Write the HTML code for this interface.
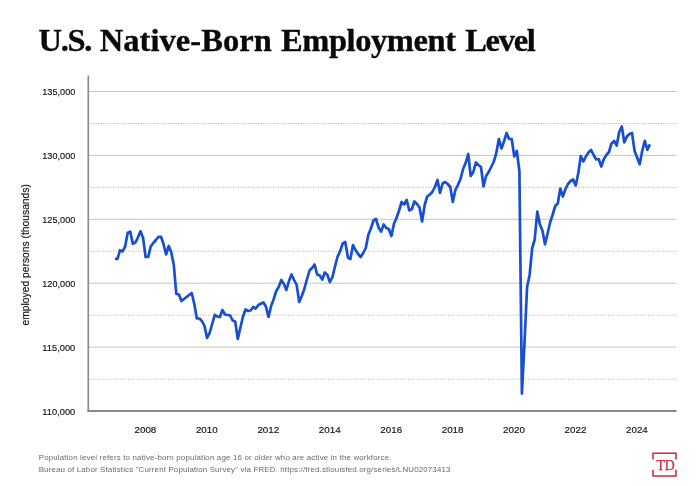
<!DOCTYPE html>
<html><head><meta charset="utf-8"><title>U.S. Native-Born Employment Level</title>
<style>
html,body{margin:0;padding:0;background:#fff}
body{width:700px;height:486px;overflow:hidden;position:relative;font-family:"Liberation Sans",sans-serif}
h1{position:absolute;left:0;top:21.3px;width:700px;height:38px;margin:0;font-family:"Liberation Serif",serif;font-weight:700;font-size:32.5px;line-height:38px;color:#0a0a0a;white-space:nowrap;letter-spacing:-0.42px;transform-origin:0 0}
svg{position:absolute;left:0;top:0}
.g{stroke:#bdbdbd;stroke-width:0.9}
.d{stroke:#a0a0a0;stroke-width:0.8;stroke-dasharray:1.1 1.4}
.t{font-family:"Liberation Sans",sans-serif;font-size:9.8px;fill:#111;stroke:#111;stroke-width:0.15px}
.f{position:absolute;left:38.7px;margin:0;font-size:7.9px;letter-spacing:0.19px;line-height:13px;color:#6a6a6a;white-space:nowrap}
h1 span{position:absolute;top:0;-webkit-text-stroke:0.35px #0a0a0a}
</style></head><body>
<h1><span style="left:38.5px;letter-spacing:-1.33px">U.S.</span> <span style="left:99.75px;letter-spacing:0.05px">Native-Born</span> <span style="left:281px;letter-spacing:-0.42px">Employment</span> <span style="left:465.25px;letter-spacing:-1.31px">Level</span></h1>
<svg width="700" height="486" viewBox="0 0 700 486">
<line x1="88" x2="676.5" y1="91.5" y2="91.5" class="g"/>
<line x1="88" x2="676.5" y1="123.5" y2="123.5" class="d"/>
<line x1="88" x2="676.5" y1="155.4" y2="155.4" class="g"/>
<line x1="88" x2="676.5" y1="187.3" y2="187.3" class="d"/>
<line x1="88" x2="676.5" y1="219.3" y2="219.3" class="g"/>
<line x1="88" x2="676.5" y1="251.2" y2="251.2" class="d"/>
<line x1="88" x2="676.5" y1="283.2" y2="283.2" class="g"/>
<line x1="88" x2="676.5" y1="315.1" y2="315.1" class="d"/>
<line x1="88" x2="676.5" y1="347.1" y2="347.1" class="g"/>
<line x1="88" x2="676.5" y1="379.1" y2="379.1" class="d"/>

<line x1="88.3" x2="88.3" y1="75.5" y2="412" stroke="#8c8c8c" stroke-width="1.7"/>
<line x1="87.5" x2="676.5" y1="411" y2="411" stroke="#8a8a8a" stroke-width="2"/>
<text x="75.3" y="95.0" text-anchor="end" class="t" textLength="33" lengthAdjust="spacingAndGlyphs">135,000</text>
<text x="75.3" y="158.9" text-anchor="end" class="t" textLength="33" lengthAdjust="spacingAndGlyphs">130,000</text>
<text x="75.3" y="222.8" text-anchor="end" class="t" textLength="33" lengthAdjust="spacingAndGlyphs">125,000</text>
<text x="75.3" y="286.7" text-anchor="end" class="t" textLength="33" lengthAdjust="spacingAndGlyphs">120,000</text>
<text x="75.3" y="350.6" text-anchor="end" class="t" textLength="33" lengthAdjust="spacingAndGlyphs">115,000</text>
<text x="75.3" y="414.5" text-anchor="end" class="t" textLength="33" lengthAdjust="spacingAndGlyphs">110,000</text>
<text x="145.4" y="433" text-anchor="middle" class="t">2008</text>
<text x="206.8" y="433" text-anchor="middle" class="t">2010</text>
<text x="268.3" y="433" text-anchor="middle" class="t">2012</text>
<text x="329.7" y="433" text-anchor="middle" class="t">2014</text>
<text x="391.2" y="433" text-anchor="middle" class="t">2016</text>
<text x="452.6" y="433" text-anchor="middle" class="t">2018</text>
<text x="514.0" y="433" text-anchor="middle" class="t">2020</text>
<text x="575.5" y="433" text-anchor="middle" class="t">2022</text>
<text x="636.9" y="433" text-anchor="middle" class="t">2024</text>

<text transform="translate(29.2,254.8) rotate(-90)" text-anchor="middle" class="t" style="font-size:10.3px">employed persons (thousands)</text>
<polyline fill="none" stroke="#184fd0" stroke-width="2.7" stroke-linejoin="round" stroke-linecap="butt" points="114.9,258.8 117.5,258.8 120.0,250.2 122.6,251.4 125.1,246.7 127.7,232.8 130.3,231.7 132.8,243.8 135.4,242.6 137.9,237.5 140.5,231.3 143.1,238.0 145.6,257.0 148.2,257.0 150.7,246.5 153.3,243.0 155.9,240.0 158.4,236.8 161.0,236.8 163.5,244.0 166.1,254.5 168.7,246.0 171.2,252.0 173.8,265.0 176.3,294.0 178.9,294.5 181.5,301.0 184.0,299.0 186.6,297.0 189.1,295.0 191.7,293.0 194.3,304.0 196.8,318.5 199.4,318.5 201.9,321.0 204.5,326.0 207.1,338.0 209.6,333.0 212.2,324.0 214.7,315.0 217.3,316.5 219.9,317.0 222.4,310.0 225.0,314.5 227.5,315.0 230.1,315.5 232.7,320.5 235.2,321.5 237.8,339.0 240.3,328.0 242.9,317.0 245.5,309.5 248.0,311.0 250.6,310.5 253.1,307.0 255.7,308.5 258.3,305.0 260.8,303.8 263.4,302.5 265.9,306.5 268.5,317.0 271.1,306.0 273.6,299.5 276.2,291.0 278.7,287.0 281.3,280.0 283.9,284.0 286.4,290.0 289.0,281.0 291.5,274.5 294.1,280.0 296.7,285.0 299.2,302.0 301.8,296.0 304.3,289.0 306.9,279.5 309.5,270.5 312.0,268.0 314.6,264.5 317.1,274.5 319.7,275.5 322.3,279.5 324.8,272.5 327.4,275.0 329.9,282.0 332.5,277.0 335.1,266.0 337.6,256.5 340.2,251.0 342.7,243.5 345.3,242.0 347.9,257.5 350.4,259.0 353.0,245.0 355.5,250.0 358.1,254.0 360.7,257.0 363.2,253.0 365.8,248.0 368.3,235.0 370.9,228.5 373.5,220.5 376.0,219.0 378.6,227.5 381.1,231.5 383.7,224.5 386.3,228.0 388.8,229.0 391.4,236.0 393.9,224.0 396.5,218.0 399.1,210.5 401.6,202.0 404.2,204.5 406.7,200.0 409.3,210.5 411.9,209.0 414.4,201.5 417.0,204.0 419.5,207.5 422.1,221.5 424.7,205.0 427.2,196.5 429.8,194.5 432.3,192.0 434.9,187.0 437.5,180.0 440.0,193.0 442.6,183.5 445.1,182.0 447.7,184.0 450.3,187.0 452.8,202.0 455.4,190.0 457.9,185.0 460.5,179.0 463.1,169.0 465.6,163.0 468.2,154.0 470.7,176.0 473.3,172.0 475.9,162.5 478.4,165.0 481.0,167.0 483.5,186.5 486.1,176.0 488.7,172.0 491.2,167.0 493.8,161.5 496.3,153.0 498.9,139.0 501.5,148.5 504.0,141.5 506.6,133.0 509.1,139.0 511.7,139.0 514.3,156.5 516.8,151.0 519.4,171.0 521.9,393.6 524.5,343.0 527.1,287.0 529.6,275.0 532.2,248.0 534.7,239.5 537.3,211.5 539.9,224.5 542.4,230.5 545.0,244.3 547.5,234.0 550.1,222.5 552.7,214.5 555.2,206.0 557.8,203.5 560.3,188.5 562.9,196.5 565.5,189.0 568.0,184.0 570.6,181.0 573.1,179.5 575.7,185.5 578.3,173.0 580.8,156.0 583.4,161.5 585.9,156.5 588.5,152.5 591.1,150.0 593.6,155.0 596.2,159.5 598.7,159.0 601.3,166.5 603.9,159.0 606.4,155.0 609.0,152.0 611.5,143.5 614.1,141.0 616.7,145.5 619.2,132.0 621.8,126.5 624.3,142.5 626.9,136.5 629.5,134.0 632.0,133.0 634.6,151.0 637.1,157.5 639.7,164.3 642.3,150.5 644.8,140.8 647.4,149.8 649.9,144.4"/>
<g fill="none" stroke="#d0253a" stroke-width="1.5">
<path d="M653,459.6V453.3H676V459.6"/>
<path d="M653,469.8V475.9H676V469.8"/>
</g>
<text x="665.6" y="469.8" text-anchor="middle" style="font-family:'Liberation Serif',serif;font-size:13.8px;fill:#d0253a;stroke:#d0253a;stroke-width:0.25px">TD</text>
</svg>
<p class="f" style="top:451px;letter-spacing:0.177px">Population level refers to native-born population age 16 or older who are active in the workforce.</p>
<p class="f" style="top:463px;letter-spacing:0.163px">Bureau of Labor Statistics "Current Population Survey" via FRED. https://fred.stlouisfed.org/series/LNU02073413</p>
</body></html>
